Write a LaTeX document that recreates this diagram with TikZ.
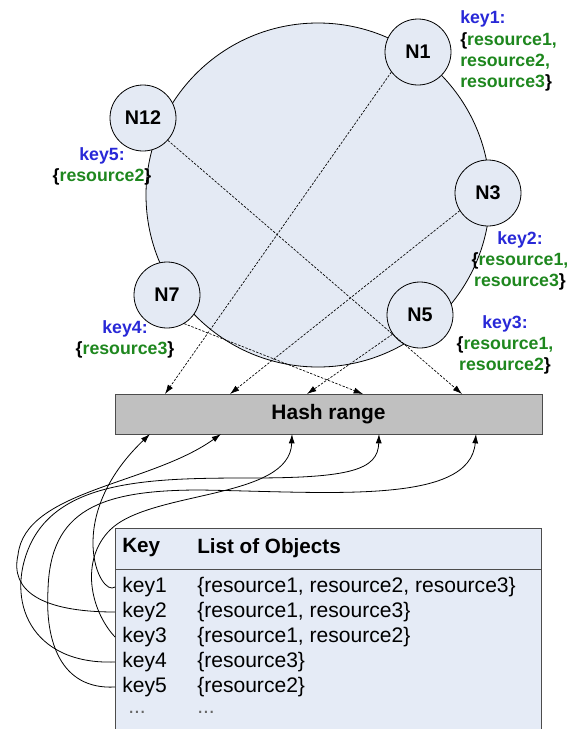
\documentclass[tikz,border=0pt]{standalone}
\usepackage{fontspec}
\setmainfont{Liberation Sans}
\usetikzlibrary{arrows.meta}
\definecolor{ringfill}{RGB}{228,234,244}
\definecolor{keyblue}{RGB}{40,40,215}
\definecolor{resgreen}{RGB}{30,135,30}
\definecolor{tablefill}{RGB}{229,235,246}
\definecolor{hashfill}{RGB}{192,192,192}
\begin{document}
\begin{tikzpicture}[x=0.75pt,y=0.75pt,yscale=-1,xscale=1,
  peer/.style={circle,draw=black,line width=0.6pt,fill=ringfill,minimum size=49.5pt,inner sep=0pt,font=\bfseries\fontsize{14.8pt}{17pt}\selectfont},
  keylabel/.style={align=center,inner sep=0pt,font=\bfseries\fontsize{13.3pt}{15.8pt}\selectfont},
  lookup/.style={line width=0.5pt,dash pattern=on 1.8pt off 1.1pt,-{Latex[length=7pt,width=4.5pt]}},
  bind/.style={line width=0.6pt,-{Latex[length=7pt,width=4.5pt]}},
  cell/.style={anchor=west,inner sep=0pt,font=\fontsize{15.8pt}{18pt}\selectfont},
  head/.style={cell,font=\bfseries\fontsize{15.5pt}{18pt}\selectfont}]
\useasboundingbox (0,0) rectangle (568,729);

%Shape: Circle
\draw [line width=0.6pt,fill=ringfill] (318,195) circle (129pt);

% Ring members
\node [peer] (n1) at (418,52) {N1};
\node [peer] (n3) at (488,193) {N3};
\node [peer] (n5) at (420,315) {N5};
\node [peer] (n7) at (167,295) {N7};
\node [peer] (n12) at (143,118) {N12};

% Text Node
\node [keylabel,align=left,anchor=west] (lab1) at (460,51) {\textcolor{keyblue}{key1:}\\\{\textcolor{resgreen}{resource1,}\\\textcolor{resgreen}{resource2,}\\\textcolor{resgreen}{resource3}\}};
% Text Node
\node [keylabel] (lab2) at (520,261) {\textcolor{keyblue}{key2:}\\\{\textcolor{resgreen}{resource1,}\\\textcolor{resgreen}{resource3}\}};
% Text Node
\node [keylabel] (lab3) at (505,345) {\textcolor{keyblue}{key3:}\\\{\textcolor{resgreen}{resource1,}\\\textcolor{resgreen}{resource2}\}};
% Text Node
\node [keylabel] (lab4) at (125,339) {\textcolor{keyblue}{key4:}\\\{\textcolor{resgreen}{resource3}\}};
% Text Node
\node [keylabel] (lab5) at (102,166) {\textcolor{keyblue}{key5:}\\\{\textcolor{resgreen}{resource2}\}};

%Shape: Rectangle
\node [draw=black!70,fill=hashfill,line width=0.6pt,minimum width=320.25pt,minimum height=30pt,inner sep=0pt,font=\bfseries\fontsize{15.7pt}{18pt}\selectfont] (hash) at (328.5,414) {Hash range};
\coordinate (t1) at (165,394);
\coordinate (t2) at (230,394);
\coordinate (t3) at (307,394);
\coordinate (t4) at (363,394);
\coordinate (t5) at (462,394);
\coordinate (b1) at (150,434);
\coordinate (b2) at (221,434);
\coordinate (b3) at (292,434);
\coordinate (b4) at (379,434);
\coordinate (b5) at (476,434);

%Straight Lines
\draw [lookup] (n1.217) -- (t1);
\draw [lookup] (n3.212) -- (t2);
\draw [lookup] (n5) -- (t3);
\draw [lookup] (n7.-59) -- (t4);
\draw [lookup] (n12.-42) -- (t5);

%Shape: Table
\fill [tablefill] (115,528) rectangle (541,729);
\draw [black!70,line width=0.6pt] (115,729) -- (115,528) -- (541,528) -- (541,729);
\draw [black!70,line width=0.6pt] (115,569) -- (541,569);
\node [head] (keyhead) at (122,548) {Key};
\node [head] (listhead) at (197,548) {List of Objects};
\foreach \i/\res in {1/{\{resource1, resource2, resource3\}},2/{\{resource1, resource3\}},3/{\{resource1, resource2\}},4/{\{resource3\}},5/{\{resource2\}}}{
  \node [cell,inner xsep=5.25pt] (key\i) at (115,{562+25*\i}) {key\i};
  \node [cell] (list\i) at (197,{562+25*\i}) {\res};
}
\node [cell,text=black!60] (more1) at (128,712) {...};
\node [cell,text=black!60] (more2) at (197,712) {...};

%Curve Lines
\draw [bind] (key1.west) .. controls (100,598) and (62,518) .. (b1);
\draw [bind] (key2.west) .. controls (40,612) and (10,590) .. (18,555) .. controls (25,490) and (150,485) .. (b2);
\draw [bind] (key3.west) .. controls (90,610) and (80,560) .. (110,530) .. controls (150,490) and (290,500) .. (b3);
\draw [bind] (key4.west) .. controls (30,665) and (5,600) .. (30,545) .. controls (60,480) and (150,478) .. (250,478) .. controls (350,478) and (378,470) .. (b4);
\draw [bind] (key5.west) .. controls (60,690) and (45,640) .. (48,590) .. controls (50,510) and (100,490) .. (200,490) .. controls (330,492) and (470,505) .. (b5);

\end{tikzpicture}
\end{document}
